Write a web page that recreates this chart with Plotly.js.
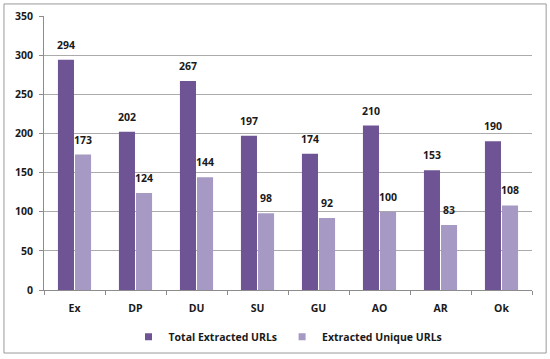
<!DOCTYPE html>
<html><head><meta charset="utf-8">
<script src="https://cdn.plot.ly/plotly-3.0.1.min.js"></script>
<style>html,body{margin:0;padding:0;background:#fff;}#chart{width:550px;height:359px;}</style>
</head><body><div id="chart"></div>
<script>
const categories = ["Ex","DP","DU","SU","GU","AO","AR","Ok"];
const totalExtracted = [294,202,267,197,174,210,153,190];
const uniqueExtracted = [173,124,144,98,92,100,83,108];
const seriesNames = ["Total Extracted URLs","Extracted Unique URLs"];
const colors = ["#6e5494","#a699c4"];
const yTicks = [0,50,100,150,200,250,300,350];

const fam = "Open Sans, Liberation Sans, sans-serif";
const tf = {family:fam, size:10.5, color:"#1a1a1a", weight:"bold"};
const traces = [
  {type:"bar", x:categories, y:totalExtracted, name:seriesNames[0], showlegend:false,
   marker:{color:colors[0]}},
  {type:"bar", x:categories, y:uniqueExtracted, name:seriesNames[1], showlegend:false,
   marker:{color:colors[1]}},
  {type:"scatter", mode:"markers", x:[null], y:[null], name:seriesNames[0], marker:{symbol:"square", size:7, color:colors[0]}},
  {type:"scatter", mode:"markers", x:[null], y:[null], name:seriesNames[1], marker:{symbol:"square", size:7, color:colors[1]}}
];
const annotations = [];
[totalExtracted, uniqueExtracted].forEach((vals, s) => {
  vals.forEach((v, i) => {
    annotations.push({x:categories[i], y:v, xref:"x", yref:"y", text:String(v), showarrow:false,
      xshift: s === 0 ? -8.5 : 8.5, yshift:6, yanchor:"bottom", font:tf});
  });
});
const layout = {
  width:550, height:359,
  margin:{l:44, r:18, t:16, b:69, autoexpand:false},
  paper_bgcolor:"#fff", plot_bgcolor:"#fff",
  font:tf,
  barmode:"group", bargap:0.44, bargroupgap:0.06,
  showlegend:true,
  legend:{orientation:"h", x:0.5, xanchor:"center", yref:"container", y:0.062, yanchor:"middle", font:tf, itemwidth:30},
  xaxis:{type:"category", automargin:false, showline:true, linecolor:"#8c8c8c", ticks:"outside", tickson:"boundaries", ticklen:4, tickcolor:"#8c8c8c", showgrid:false, ticklabelstandoff:8,
    tickfont:tf},
  yaxis:{range:[0,350], automargin:false, tickvals:yTicks, showline:true, linecolor:"#8c8c8c", ticks:"outside", ticklen:4, tickcolor:"#8c8c8c", showgrid:true, gridcolor:"#ababab", zeroline:false, ticklabelstandoff:4,
    tickfont:tf},
  annotations: annotations,
  shapes:[{type:"rect", xref:"paper", yref:"paper", x0:-0.082, x1:1.029, y0:-0.23, y1:1.044, line:{color:"#9a9a9a", width:1}, fillcolor:"rgba(0,0,0,0)", layer:"below"}]
};
Plotly.newPlot("chart", traces, layout, {displayModeBar:false, staticPlot:true});
</script></body></html>
